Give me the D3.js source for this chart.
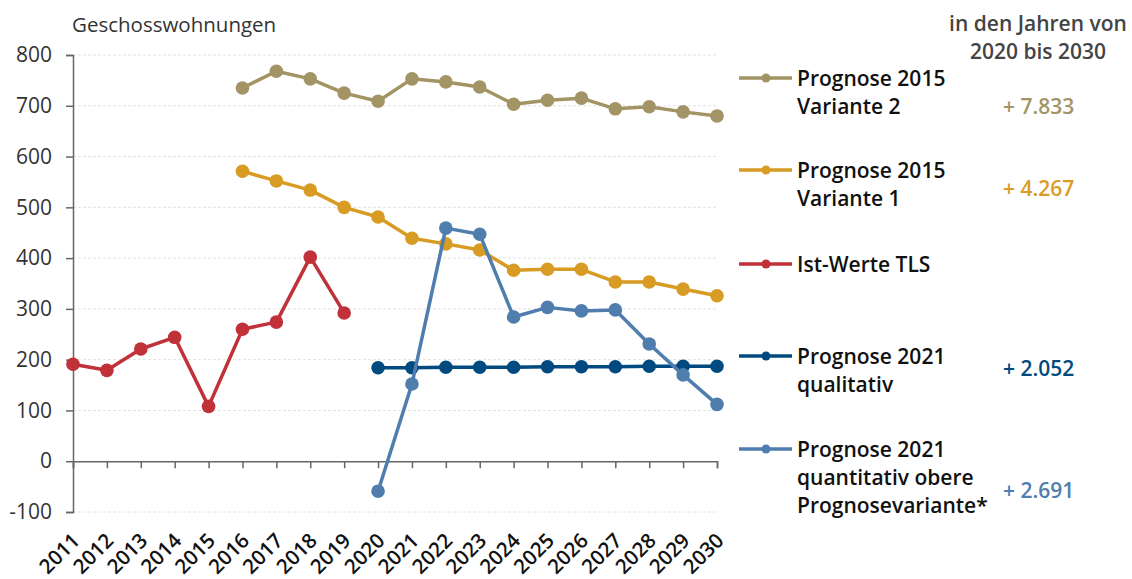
<!DOCTYPE html>
<html><head><meta charset="utf-8">
<script src="https://cdn.jsdelivr.net/npm/d3@7"></script>
<style>
body{margin:0;background:#fff;}
svg{font-family:"Open Sans",sans-serif;}
</style></head>
<body><svg id="c" width="1132" height="579"></svg>
<script>
const years = d3.range(2011, 2031);
const yTicks = [-100,0,100,200,300,400,500,600,700,800];

const yearsV2 = d3.range(2016, 2031);
const variante2 = [735,768,753,725,709,753,747,737,703,711,715,694,698,688,680];
const yearsV1 = d3.range(2016, 2031);
const variante1 = [571,552,534,500,481,439,428,416,376,378,378,353,353,339,326];
const yearsIst = d3.range(2011, 2020);
const istWerte = [191,179,221,244,108,260,274,402,292];
const yearsQ = d3.range(2020, 2031);
const qualitativ = [184,184,185,185,185,186,186,186,187,187,187];
const quantitativ = [-59,152,459,447,284,303,296,298,231,170,112];

const seriesNames = [["Prognose 2015","Variante 2"],["Prognose 2015","Variante 1"],["Ist-Werte TLS"],["Prognose 2021","qualitativ"],["Prognose 2021","quantitativ obere","Prognosevariante*"]];
const sums = ["+ 7.833","+ 4.267","","+ 2.052","+ 2.691"];
const colors = ["#A39465","#D89B23","#C0313A","#004A80","#4F7EAE"];

const series = [
  {x: yearsV2, y: variante2},
  {x: yearsV1, y: variante1},
  {x: yearsIst, y: istWerte},
  {x: yearsQ, y: qualitativ},
  {x: yearsQ, y: quantitativ}
];

const svg = d3.select("#c");
const x = d3.scaleLinear().domain([2011,2030]).range([73,717]);
const y = d3.scaleLinear().domain([-100,800]).range([512,55]);

// gridlines
svg.append("g").selectAll("line").data(yTicks.filter(d=>d!==0)).join("line")
  .attr("x1",73).attr("x2",717).attr("y1",d=>y(d)).attr("y2",d=>y(d))
  .attr("stroke","#e2e2e2").attr("stroke-width",1).attr("stroke-dasharray","3,2");

// y axis
const yAxis = svg.append("g").attr("transform","translate(73,0)")
  .call(d3.axisLeft(y).tickValues(yTicks).tickSize(7).tickPadding(14).tickFormat(d=>String(d)));
yAxis.select(".domain").attr("stroke","#666").attr("stroke-width",1.5);
yAxis.selectAll(".tick line").attr("stroke","#666").attr("stroke-width",1.5);
yAxis.selectAll("text").attr("font-size",21).attr("fill","#333").attr("font-weight",400).attr("font-family","Open Sans");

// x axis at 0
const xAxis = svg.append("g").attr("transform",`translate(0,${y(0)})`)
  .call(d3.axisBottom(x).tickValues(years).tickSize(7).tickFormat(""));
xAxis.select(".domain").attr("stroke","#666").attr("stroke-width",1.5);
xAxis.selectAll(".tick line").attr("stroke","#666").attr("stroke-width",1.5);

// x labels
svg.append("g").selectAll("text").data(years).join("text")
  .attr("transform",d=>`translate(${x(d)+8},${542}) rotate(-45)`)
  .attr("text-anchor","end").attr("font-size",20.5).attr("font-weight",600).attr("fill","#111")
  .text(d=>d);

// axis title
svg.append("text").attr("x",72).attr("y",32).attr("font-size",20.5).attr("fill","#333").text("Geschosswohnungen");

// lines
const line = d3.line().x(d=>x(d[0])).y(d=>y(d[1]));
series.forEach((s,i)=>{
  const pts = s.x.map((yr,j)=>[yr,s.y[j]]);
  const g = svg.append("g");
  g.append("path").datum(pts).attr("d",line).attr("fill","none").attr("stroke",colors[i]).attr("stroke-width",3.5).attr("stroke-linejoin","round");
  g.selectAll("circle").data(pts).join("circle").attr("cx",d=>x(d[0])).attr("cy",d=>y(d[1])).attr("r",6.8).attr("fill",colors[i]);
});

// legend
const legTop = [78,170,264,356,449];
seriesNames.forEach((names,i)=>{
  const ly = legTop[i];
  svg.append("line").attr("x1",739).attr("x2",792).attr("y1",ly).attr("y2",ly).attr("stroke",colors[i]).attr("stroke-width",3.5);
  svg.append("circle").attr("cx",766).attr("cy",ly).attr("r",4.5).attr("fill",colors[i]);
  names.forEach((t,k)=>{
    svg.append("text").attr("x",797).attr("y",ly+7.5+k*28).attr("font-size",21).attr("font-weight",600).attr("fill","#111").text(t);
  });
});
const sumY = [106,188,0,368,490];
sums.forEach((s,i)=>{
  if(!s) return;
  svg.append("text").attr("x",1003).attr("y",sumY[i]+7.5).attr("font-size",21).attr("font-weight",600).attr("fill",colors[i]).text(s);
});
svg.append("text").attr("x",1038).attr("y",31).attr("text-anchor","middle").attr("font-size",21).attr("font-weight",600).attr("fill","#444").text("in den Jahren von");
svg.append("text").attr("x",1038).attr("y",59).attr("text-anchor","middle").attr("font-size",21).attr("font-weight",600).attr("fill","#444").text("2020 bis 2030");
</script></body></html>
